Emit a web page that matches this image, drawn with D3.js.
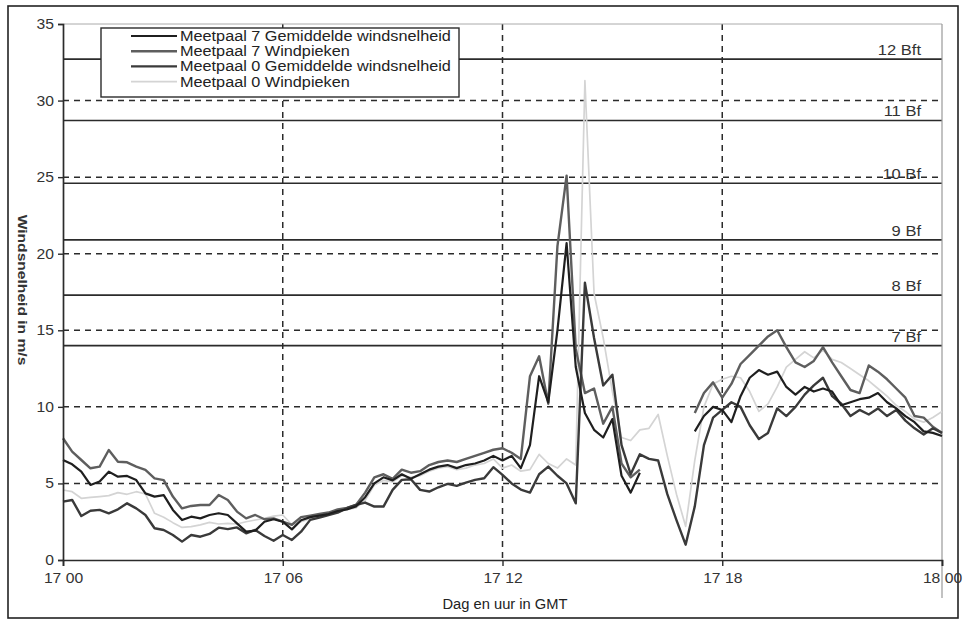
<!DOCTYPE html>
<html>
<head>
<meta charset="utf-8">
<script src="https://cdn.jsdelivr.net/npm/d3@7/dist/d3.min.js"></script>
<style>
  html, body { margin: 0; padding: 0; background: #fff; }
  svg { display: block; font-family: "Liberation Sans", Arial, sans-serif; }
</style>
</head>
<body>
<svg id="chart" width="968" height="620"></svg>
<script>
// ---- data (hours after 17 00 GMT, 15-minute samples) ----
const sampleHours = d3.range(0, 24.001, 0.25);

const m7Avg = [
  6.53, 6.25, 5.77, 4.90, 5.12, 5.77, 5.44, 5.49, 5.22, 4.35, 4.14, 4.24, 3.27, 2.61, 2.83, 2.72, 2.94, 3.05, 2.94, 2.39, 1.85, 1.92, 2.50, 2.66, 2.50,
  2.0, 2.6, 2.8, 2.9, 3.0, 3.2, 3.3, 3.5, 4.1, 5.0, 5.4, 5.2, 5.6, 5.3, 5.6, 5.9, 6.1, 6.2, 6.0, 6.2, 6.3, 6.5, 6.8, 6.5,
  6.8, 6.0, 7.5, 12.0, 10.3, 15.0, 20.7, 12.6, 9.6, 8.5, 8.0, 9.2, 5.5, 4.4, 5.7,
  null, null, null, null, null,
  8.4, 9.4, 10.0, 9.8, 9.0, 10.7, 11.9, 12.4, 12.1, 12.3, 11.3, 10.8, 11.3, 11.0, 11.2, 11.0, 10.1, 10.3, 10.5, 10.6, 10.9, 10.3, 9.9, 9.4, 9.0, 8.4, 8.3, 8.1
];
const m7Peak = [
  7.95, 7.08, 6.53, 5.99, 6.10, 7.18, 6.42, 6.38, 6.10, 5.88, 5.33, 5.22, 4.14, 3.37, 3.53, 3.59, 3.59, 4.24, 3.92, 3.16, 2.72, 2.94, 2.66, 2.72, 2.50,
  2.3, 2.8, 2.9, 3.0, 3.1, 3.3, 3.4, 3.6, 4.4, 5.4, 5.6, 5.3, 5.9, 5.7, 5.8, 6.2, 6.4, 6.5, 6.4, 6.6, 6.8, 7.0, 7.2, 7.3,
  7.0, 6.6, 12.0, 13.3, 10.2, 20.5, 25.1, 13.8, 10.9, 11.2, 8.9, 10.0, 6.3, 5.4, 5.9,
  null, null, null, null, null,
  9.6, 10.9, 11.6, 10.6, 11.5, 12.8, 13.4, 14.0, 14.6, 15.0, 13.9, 12.9, 12.6, 13.0, 13.9, 12.9, 12.0, 11.1, 10.9, 12.7, 12.3, 11.8, 11.2, 10.6, 9.4, 9.3, 8.7, 8.3
];
const m0Avg = [
  3.81, 3.92, 2.87, 3.22, 3.27, 3.05, 3.31, 3.70, 3.37, 2.94, 2.07, 1.96, 1.63, 1.20, 1.63, 1.52, 1.70, 2.11, 2.02, 2.13, 1.74, 1.96, 1.57, 1.26, 1.63,
  1.31, 1.85, 2.62, 2.77, 2.94, 3.09, 3.38, 3.60, 3.75, 3.49, 3.49, 4.58, 5.23, 5.27, 4.58, 4.47, 4.75, 4.97, 4.84, 5.05, 5.23, 5.34, 6.06, 5.56,
  5.0, 4.6, 4.4, 5.6, 6.1, 5.5, 5.0, 3.7, 18.1, 14.5, 11.4, 12.1, 7.5, 5.6, 6.9, 6.6, 6.5, 4.3, 2.6, 1.0,
  3.5, 7.5, 9.3, 9.8, 10.3, 10.0, 8.8, 7.9, 8.3, 9.9, 9.4, 10.0, 10.8, 11.4, 11.9, 10.7, 10.2, 9.4, 9.8, 9.5, 9.9, 9.4, 9.8, 9.1, 8.6, 8.2, 8.6, 8.3
];
const m0Peak = [
  4.57, 4.46, 4.03, 4.09, 4.14, 4.20, 4.40, 4.29, 4.46, 4.31, 3.05, 2.79, 2.44, 2.13, 2.18, 2.29, 2.46, 2.35, 2.39, 2.35, 2.50, 2.61, 2.72, 2.87, 2.94,
  2.3, 2.5, 2.7, 2.9, 3.0, 3.1, 3.3, 3.4, 3.9, 4.9, 5.2, 5.1, 5.5, 5.4, 5.5, 5.8, 6.0, 6.1, 5.9, 6.0, 6.2, 6.3, 6.6, 6.0,
  6.2, 5.8, 5.9, 6.9, 6.3, 6.0, 6.6, 6.2, 31.3, 17.4, 14.5, 11.0, 8.0, 7.8, 8.5, 8.6, 9.5, 6.8, 4.3, 2.2,
  6.5, 10.0, 11.5, 11.8, 12.0, 11.9, 11.0, 9.7, 10.2, 11.3, 12.6, 13.1, 13.6, 13.2, 13.7, 13.1, 12.9, 12.5, 12.1, 11.7, 11.2, 10.7, 10.1, 9.7, 9.2, 9.0, 9.3, 9.7
];

const seriesNames = [
  "Meetpaal 7 Gemiddelde windsnelheid",
  "Meetpaal 7 Windpieken",
  "Meetpaal 0 Gemiddelde windsnelheid",
  "Meetpaal 0 Windpieken"
];

const xTickHours = [0, 6, 12, 18, 24];
const xTickLabels = ["17 00", "17 06", "17 12", "17 18", "18 00"];
const yTicks = [0, 5, 10, 15, 20, 25, 30, 35];
const bftLevels = [32.7, 28.7, 24.6, 20.9, 17.3, 14.0];
const bftLabels = ["12 Bft", "11 Bf", "10 Bf", "9 Bf", "8 Bf", "7 Bf"];

const xTitle = "Dag en uur in GMT";
const yTitle = "Windsnelheid in m/s";

// ---- drawing ----
const svg = d3.select("#chart");
const plot = { left: 63, right: 942, top: 24, bottom: 560 };

const x = d3.scaleLinear().domain([0, 24]).range([plot.left, plot.right]);
const y = d3.scaleLinear().domain([0, 35]).range([plot.bottom, plot.top]);

const ink = "#2b2b2b";

// widen text glyphs horizontally (the original print is slightly stretched)
function stretch(sel, k) {
  sel.each(function () {
    const w = this.getComputedTextLength();
    d3.select(this).attr("textLength", w * k).attr("lengthAdjust", "spacingAndGlyphs");
  });
}

// outer frame
svg.append("rect").attr("x", 8).attr("y", 6).attr("width", 950).attr("height", 612)
  .attr("fill", "#fff").attr("stroke", "#222").attr("stroke-width", 1.6);

// dashed grid
const g = svg.append("g");
g.selectAll("line.hgrid").data(yTicks.filter(v => v > 0 && v < 35)).join("line")
  .attr("x1", plot.left).attr("x2", plot.right)
  .attr("y1", d => y(d)).attr("y2", d => y(d))
  .attr("stroke", ink).attr("stroke-width", 1.5).attr("stroke-dasharray", "6,5");
g.selectAll("line.vgrid").data(xTickHours.filter(v => v > 0 && v < 24)).join("line")
  .attr("x1", d => x(d)).attr("x2", d => x(d))
  .attr("y1", plot.top).attr("y2", plot.bottom)
  .attr("stroke", ink).attr("stroke-width", 1.5).attr("stroke-dasharray", "6,5");

// plot border (top and right, light)
svg.append("line").attr("x1", plot.left).attr("x2", plot.right).attr("y1", y(35)).attr("y2", y(35))
  .attr("stroke", "#aaa").attr("stroke-width", 1);
svg.append("line").attr("x1", plot.right).attr("x2", plot.right).attr("y1", plot.top).attr("y2", 598)
  .attr("stroke", "#999").attr("stroke-width", 1.2);

// Beaufort lines
g.selectAll("line.bft").data(bftLevels).join("line")
  .attr("x1", plot.left).attr("x2", plot.right)
  .attr("y1", d => y(d)).attr("y2", d => y(d))
  .attr("stroke", ink).attr("stroke-width", 1.7);
const bftText = g.selectAll("text.bft").data(bftLevels).join("text")
  .attr("x", 921).attr("y", d => y(d) - 4)
  .attr("text-anchor", "end").attr("font-size", 14).attr("fill", "#333")
  .text((d, i) => bftLabels[i]);
stretch(bftText, 1.18);

// series
const line = d3.line()
  .defined(d => d.v != null)
  .x(d => x(d.h)).y(d => y(d.v));
const seriesData = [m7Avg, m7Peak, m0Avg, m0Peak].map(arr => arr.map((v, i) => ({ h: sampleHours[i], v })));
const seriesStyle = [
  { color: "#1f1f1f", width: 2.2 },
  { color: "#5e5e5e", width: 2.4 },
  { color: "#3a3a3a", width: 2.4 },
  { color: "#d4d4d4", width: 1.7 }
];
const drawOrder = [3, 1, 2, 0];
drawOrder.forEach(i => {
  svg.append("path").datum(seriesData[i])
    .attr("fill", "none")
    .attr("stroke", seriesStyle[i].color)
    .attr("stroke-width", seriesStyle[i].width)
    .attr("stroke-linejoin", "round")
    .attr("d", line);
});

// axes
const yAxis = svg.append("g").attr("transform", `translate(${plot.left},0)`)
  .call(d3.axisLeft(y).tickValues(yTicks).tickSize(5).tickFormat(d3.format("d")));
const xAxis = svg.append("g").attr("transform", `translate(0,${plot.bottom})`)
  .call(d3.axisBottom(x).tickValues(xTickHours).tickSize(6).tickFormat((d, i) => xTickLabels[i]));
[yAxis, xAxis].forEach(ax => {
  ax.select(".domain").attr("stroke", ink).attr("stroke-width", 1.7);
  ax.selectAll(".tick line").attr("stroke", ink).attr("stroke-width", 1.4);
  ax.selectAll(".tick text").attr("fill", "#333").attr("font-size", 14)
    .attr("font-family", "Liberation Sans, Arial, sans-serif");
});
yAxis.selectAll(".tick text").attr("x", -9);
xAxis.selectAll(".tick text").attr("y", 13);
stretch(yAxis.selectAll(".tick text"), 1.12);
stretch(xAxis.selectAll(".tick text"), 1.12);

// axis titles
const xt = svg.append("text").attr("x", 505).attr("y", 609).attr("text-anchor", "middle")
  .attr("font-size", 14).attr("fill", "#222").text(xTitle);
stretch(xt, 1.05);
const yt = svg.append("text").attr("transform", "translate(18,290) rotate(90)")
  .attr("text-anchor", "middle").attr("font-size", 13).attr("font-weight", "bold").attr("fill", "#333").text(yTitle);
stretch(yt, 1.2);

// legend
const legend = svg.append("g");
legend.append("rect").attr("x", 101).attr("y", 28).attr("width", 358).attr("height", 69)
  .attr("fill", "#fff").attr("stroke", ink).attr("stroke-width", 1.4);
seriesNames.forEach((name, i) => {
  const cy = 36 + i * 15.2;
  legend.append("line").attr("x1", 131).attr("x2", 177).attr("y1", cy).attr("y2", cy)
    .attr("stroke", seriesStyle[i].color).attr("stroke-width", seriesStyle[i].width);
  const t = legend.append("text").attr("x", 180).attr("y", cy + 5)
    .attr("font-size", 14).attr("fill", "#222").text(name);
  stretch(t, 1.16);
});
</script>
</body>
</html>
